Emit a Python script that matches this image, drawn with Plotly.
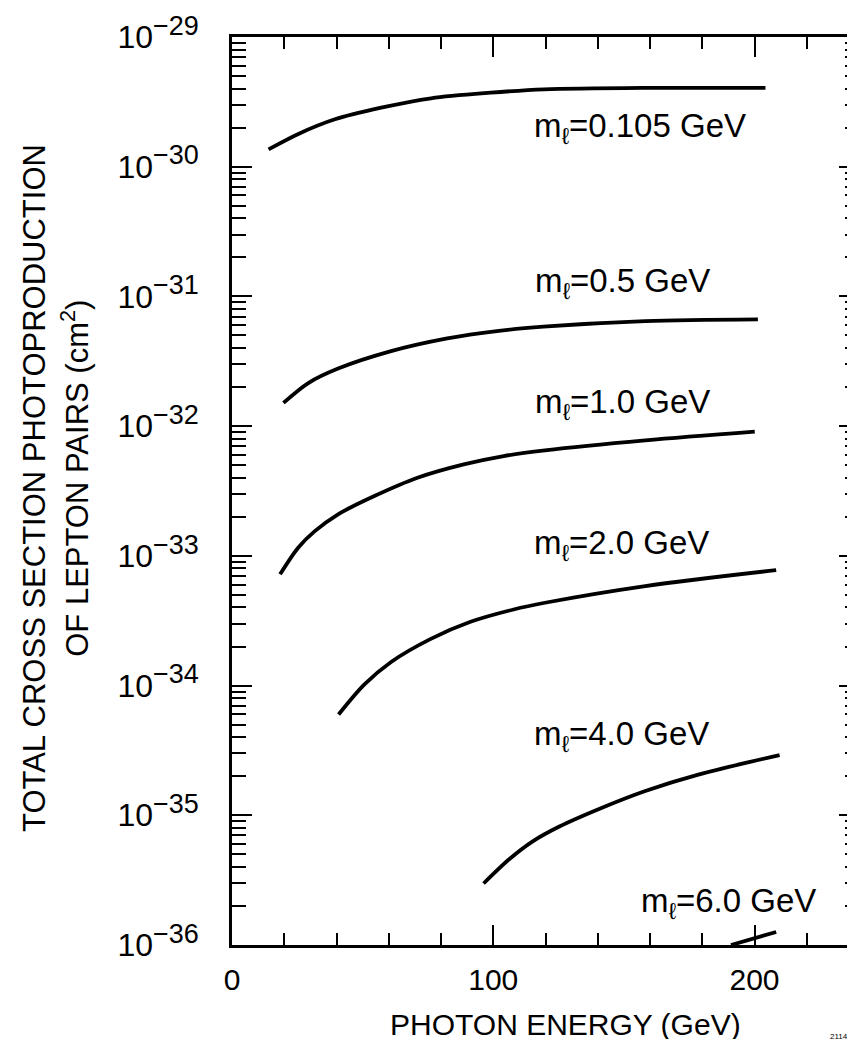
import plotly.graph_objects as go

# ---- data ----
labels = ["0.105", "0.5", "1.0", "2.0", "4.0", "6.0"]

e_0105 = [14.0, 25.4, 39.4, 57.1, 76.2, 99.0, 119.4, 158.5, 204.2]
s_0105 = [1.36e-30, 1.79e-30, 2.32e-30, 2.85e-30, 3.37e-30, 3.72e-30, 3.95e-30, 4.06e-30, 4.06e-30]

e_05 = [19.7, 29.2, 40.6, 60.9, 82.4, 101.4, 119.2, 158.2, 201.3]
s_05 = [1.51e-32, 2.15e-32, 2.78e-32, 3.79e-32, 4.75e-32, 5.41e-32, 5.84e-32, 6.45e-32, 6.65e-32]

e_10 = [18.4, 25.4, 31.7, 40.6, 54.5, 71.0, 88.7, 104.0, 119.8, 158.2, 200.1]
s_10 = [7.2e-34, 1.16e-33, 1.55e-33, 2.09e-33, 2.89e-33, 4.0e-33, 5.07e-33, 5.88e-33, 6.5e-33, 7.76e-33, 9.06e-33]

e_20 = [40.8, 50.7, 60.9, 76.1, 91.3, 107.8, 119.8, 158.2, 208.3]
s_20 = [5.98e-35, 1.02e-34, 1.52e-34, 2.29e-34, 3.10e-34, 3.86e-34, 4.35e-34, 5.85e-34, 7.76e-34]

e_40 = [96.3, 106.2, 115.1, 125.3, 140.5, 158.2, 178.5, 209.6]
s_40 = [2.98e-36, 4.6e-36, 6.3e-36, 8.2e-36, 1.12e-35, 1.54e-35, 2.06e-35, 2.91e-35]

e_60 = [191.0, 208.3]
s_60 = [1.0e-36, 1.26e-36]

y_exponents = [-36, -35, -34, -33, -32, -31, -30, -29]
x_tickvals = [0, 100, 200]
x_ticktext = ["0", "100", "200"]

FONT = "Liberation Sans"

fig = go.Figure()
for ex, sy in [(e_0105, s_0105), (e_05, s_05), (e_10, s_10), (e_20, s_20), (e_40, s_40), (e_60, s_60)]:
    fig.add_trace(go.Scatter(x=ex, y=sy, mode="lines",
                             line=dict(color="black", width=3.8, shape="spline", smoothing=0.9),
                             showlegend=False, hoverinfo="skip", cliponaxis=True))

# curve labels (left edge x, caps-centre log10 y)
label_pos = [(114.9, -29.70), (115.2, -30.90), (115.2, -31.83), (114.9, -32.92), (114.9, -34.39), (155.6, -35.675)]
for lab, (lx, ly) in zip(labels, label_pos):
    fig.add_annotation(x=lx, y=ly, xref="x", yref="y", xanchor="left", yanchor="middle",
                       text=f"m<sub>ℓ</sub>={lab} GeV", showarrow=False,
                       font=dict(family=FONT, size=33, color="black"))

ytext = [f"10<sup><span style='font-size:27px'>−{abs(n)}</span></sup>" for n in y_exponents]

fig.update_layout(
    width=855, height=1039,
    margin=dict(l=224, r=1, t=29, b=102),
    paper_bgcolor="white", plot_bgcolor="white",
    font=dict(family=FONT, color="black"),
    xaxis=dict(range=[0, 240], showline=True, linewidth=2.5, linecolor="black", mirror="ticks",
               ticks="inside", ticklen=20, tickwidth=2, tickcolor="black",
               tickvals=x_tickvals, ticktext=x_ticktext, tickfont=dict(size=30),
               ticklabelstandoff=6,
               showgrid=False, zeroline=False,
               minor=dict(ticks="inside", ticklen=12, tickwidth=2, tickcolor="black", dtick=20, tick0=0, showgrid=False)),
    yaxis=dict(type="log", range=[-36, -29], showline=True, linewidth=2.5, linecolor="black", mirror="ticks",
               ticks="inside", ticklen=20, tickwidth=2, tickcolor="black",
               tickvals=[10.0 ** n for n in y_exponents], ticktext=ytext, tickfont=dict(size=32),
               ticklabelstandoff=24,
               showgrid=False, zeroline=False,
               minor=dict(ticks="inside", ticklen=14, tickwidth=2, tickcolor="black", dtick="D1", showgrid=False)),
)

fig.add_annotation(xref="paper", yref="paper", x=-0.3159, y=0.5033, textangle=-90,
                   text="TOTAL CROSS SECTION PHOTOPRODUCTION", showarrow=False,
                   xanchor="center", yanchor="middle", font=dict(family=FONT, size=31, color="black"))
fig.add_annotation(xref="paper", yref="paper", x=-0.2508, y=0.5143, textangle=-90,
                   text="OF LEPTON PAIRS (cm<sup>2</sup>)", showarrow=False,
                   xanchor="center", yanchor="middle", font=dict(family=FONT, size=31, color="black"))
fig.add_annotation(xref="paper", yref="paper", x=0.8143, y=-0.0881,
                   text="PHOTON ENERGY (GeV)", showarrow=False,
                   xanchor="right", yanchor="middle", font=dict(family=FONT, size=30, color="black"))
fig.add_annotation(xref="paper", yref="paper", x=1.0, y=-0.101,
                   text="2114B4", showarrow=False, borderpad=0,
                   xanchor="right", yanchor="middle", font=dict(family=FONT, size=8, color="black"))

fig.write_html("out.html")
